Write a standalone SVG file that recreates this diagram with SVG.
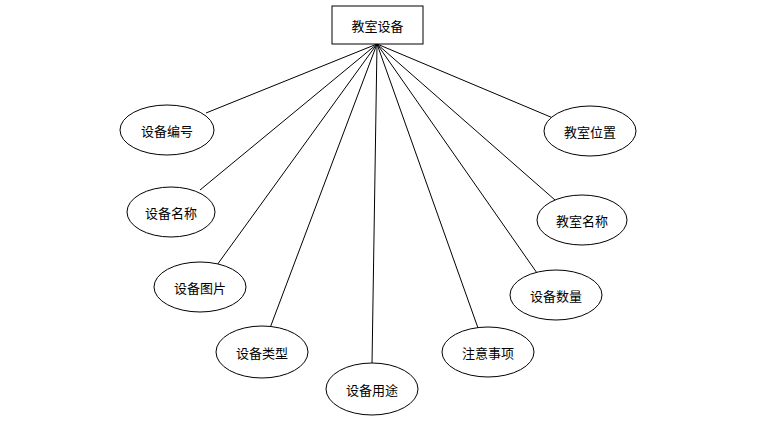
<svg xmlns="http://www.w3.org/2000/svg" width="774" height="425" viewBox="0 0 774 425">
<style>
.n{fill:#fff;stroke:#000;stroke-width:1}
.t{font-family:"Noto Sans CJK SC","Liberation Sans",sans-serif;font-size:13px;fill:#000;text-anchor:middle;dominant-baseline:central}
.c line{stroke:#000;stroke-width:1}
</style>
<rect width="774" height="425" fill="#fff"/>
<g class="c" id="connectors">
<line x1="377" y1="44" x2="206" y2="113"/>
<line x1="377" y1="44" x2="200" y2="190"/>
<line x1="377" y1="44" x2="217" y2="265"/>
<line x1="377" y1="44" x2="270" y2="328"/>
<line x1="377" y1="44" x2="372" y2="364"/>
<line x1="377" y1="44" x2="478" y2="328"/>
<line x1="377" y1="44" x2="537" y2="273"/>
<line x1="377" y1="44" x2="555" y2="200"/>
<line x1="377" y1="44" x2="553" y2="118"/>
</g>
<g id="root"><rect class="n" x="332" y="6" width="91" height="38"/><text class="t" x="377.5" y="25">教室设备</text></g>
<g id="n1"><ellipse class="n" cx="167" cy="130" rx="47" ry="25"/><text class="t" x="167" y="130">设备编号</text></g>
<g id="n2"><ellipse class="n" cx="171" cy="212" rx="44" ry="25"/><text class="t" x="171" y="212">设备名称</text></g>
<g id="n3"><ellipse class="n" cx="200" cy="287" rx="46" ry="25"/><text class="t" x="200" y="287">设备图片</text></g>
<g id="n4"><ellipse class="n" cx="262" cy="352" rx="46" ry="26"/><text class="t" x="262" y="352">设备类型</text></g>
<g id="n5"><ellipse class="n" cx="372" cy="389" rx="46" ry="26"/><text class="t" x="372" y="389">设备用途</text></g>
<g id="n6"><ellipse class="n" cx="488" cy="352" rx="46" ry="25"/><text class="t" x="488" y="352">注意事项</text></g>
<g id="n7"><ellipse class="n" cx="556" cy="295" rx="46" ry="25"/><text class="t" x="556" y="295">设备数量</text></g>
<g id="n8"><ellipse class="n" cx="582" cy="220" rx="45" ry="25"/><text class="t" x="582" y="220">教室名称</text></g>
<g id="n9"><ellipse class="n" cx="590" cy="131" rx="46" ry="25"/><text class="t" x="590" y="131">教室位置</text></g>
</svg>
